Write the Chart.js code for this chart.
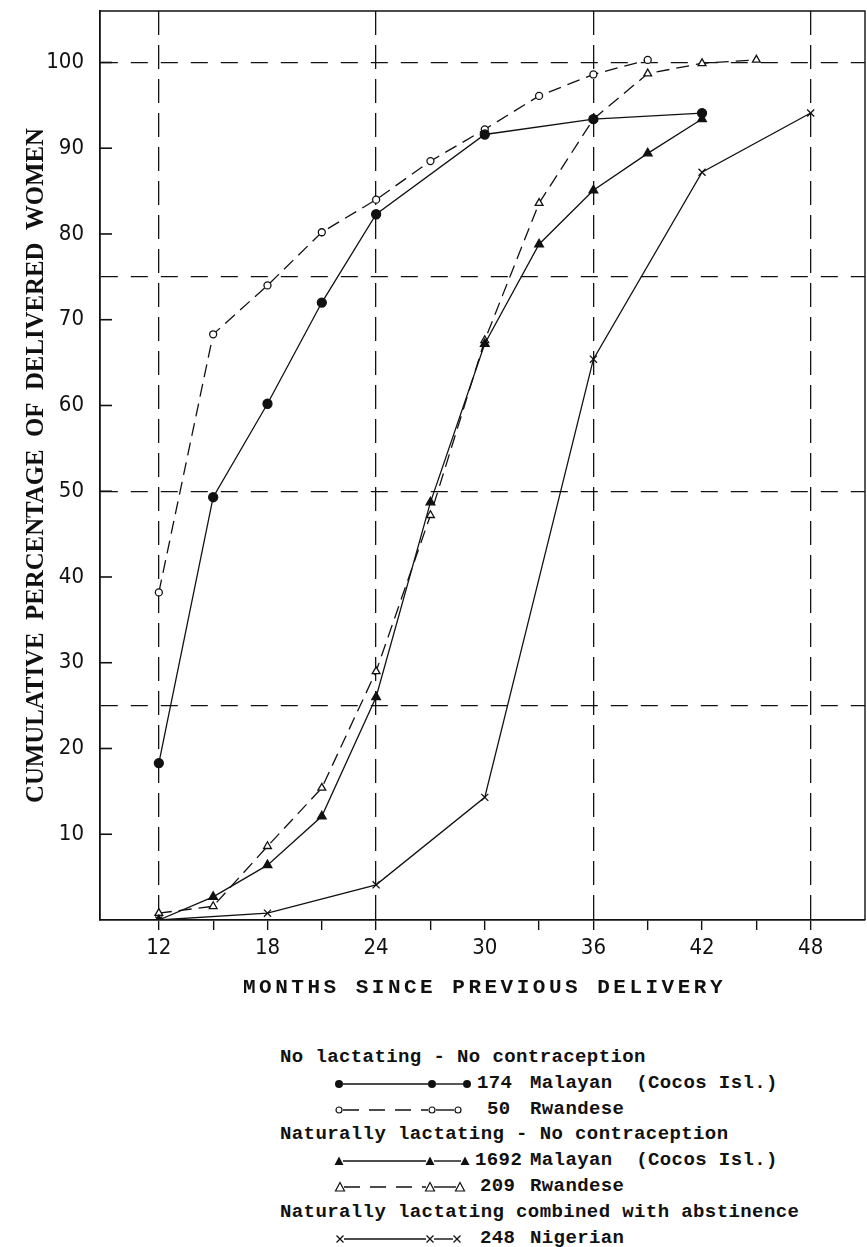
<!DOCTYPE html>
<html>
<head>
<meta charset="utf-8">
<script src="https://cdn.jsdelivr.net/npm/chart.js@4.4.0/dist/chart.umd.min.js"></script>
<style>
  body { margin: 0; background: #fff; }
  #wrap { position: relative; width: 867px; height: 1247px; overflow: hidden; }
  #chartBox { position: absolute; left: 0; top: 0; width: 867px; height: 1010px; }
  #legend { position: absolute; left: 0; top: 1045px; width: 867px;
            font: bold 19px "Liberation Mono", "DejaVu Sans Mono", monospace;
            color: #111; letter-spacing: 0.4px; }
  .row { position: relative; height: 25.8px; line-height: 25.8px; white-space: pre; }
  .hdr { padding-left: 280px; }
  .row svg { position: absolute; left: 331px; top: 5px; }
  .num { position: absolute; left: 475px; }
  .name { position: absolute; left: 530px; }
</style>
</head>
<body>
<div id="wrap">
  <div id="chartBox"><canvas id="chart"></canvas></div>
  <div id="legend"></div>
</div>
<script>
// tick positions
const xTickValues = [12, 15, 18, 21, 24, 27, 30, 33, 36, 39, 42, 45, 48];
const yTickValues = [10, 20, 25, 30, 40, 50, 60, 70, 75, 80, 90, 100];

// No lactating - No contraception
const monthsMalayanNoLact = [12, 15, 18, 21, 24, 30, 36, 42];
const malayanNoLact = [18.3, 49.3, 60.2, 72.0, 82.3, 91.6, 93.4, 94.1];
const monthsRwandaNoLact = [12, 15, 18, 21, 24, 27, 30, 33, 36, 39];
const rwandaNoLact = [38.2, 68.3, 74.0, 80.2, 84.0, 88.5, 92.2, 96.1, 98.6, 100.3];

// Naturally lactating - No contraception
const monthsMalayanLact = [12, 15, 18, 21, 24, 27, 30, 33, 36, 39, 42];
const malayanLact = [0, 2.7, 6.4, 12.1, 26.0, 48.7, 67.2, 78.8, 85.1, 89.4, 93.4];
const monthsRwandaLact = [12, 15, 18, 21, 24, 27, 30, 33, 36, 39, 42, 45];
const rwandaLact = [0.8, 1.6, 8.6, 15.4, 29.0, 47.2, 67.6, 83.6, 93.4, 98.7, 99.9, 100.3];

// Naturally lactating combined with abstinence
const monthsNigeria = [12, 18, 24, 30, 36, 42, 48];
const nigeria = [0, 0.8, 4.1, 14.3, 65.4, 87.2, 94.1];

const xTitle = 'MONTHS SINCE PREVIOUS DELIVERY';
const yTitle = 'CUMULATIVE  PERCENTAGE  OF  DELIVERED  WOMEN';

const INK = '#111';
const tickFont = { family: '"Liberation Sans Narrow", "DejaVu Sans Condensed", "Liberation Sans", sans-serif', size: 22 };

function pts(xs, ys) {
  return xs.map((m, i) => ({ x: m, y: ys[i] }));
}

function series(label, xs, ys, style, radius, fill, dash) {
  return {
    label: label,
    data: pts(xs, ys),
    borderColor: INK,
    borderWidth: 1.3,
    borderDash: dash,
    pointStyle: style,
    pointRadius: radius,
    pointBorderWidth: 1.3,
    pointBackgroundColor: fill,
    pointBorderColor: INK,
    tension: 0,
    fill: false
  };
}

// frame, inner y ticks and axis titles
const framePlugin = {
  id: 'frame',
  afterDraw(chart) {
    const { ctx, chartArea: a, scales: { x, y } } = chart;
    ctx.save();
    ctx.strokeStyle = INK;
    ctx.lineWidth = 1.4;
    ctx.beginPath();
    ctx.moveTo(a.left, a.top);
    ctx.lineTo(a.right, a.top);
    ctx.lineTo(a.right, a.bottom);
    ctx.stroke();

    ctx.lineWidth = 1.6;
    y.ticks.forEach(t => {
      if (t.value % 10 !== 0) return;
      const py = y.getPixelForValue(t.value);
      ctx.beginPath();
      ctx.moveTo(a.left, py);
      ctx.lineTo(a.left + 12, py);
      ctx.stroke();
    });

    ctx.fillStyle = INK;
    ctx.textAlign = 'center';
    ctx.textBaseline = 'middle';
    ctx.font = 'bold 21px "Liberation Mono", "DejaVu Sans Mono", monospace';
    ctx.letterSpacing = '3.5px';
    ctx.fillText(xTitle, (a.left + a.right) / 2 + 2, x.bottom - 22);

    ctx.letterSpacing = '0px';
    ctx.font = 'bold 26px "Liberation Serif", "DejaVu Serif", serif';
    const w = ctx.measureText(yTitle).width;
    ctx.translate(36, (a.top + a.bottom) / 2);
    ctx.rotate(-Math.PI / 2);
    ctx.scale(675 / w, 1);
    ctx.fillText(yTitle, 0, 0);
    ctx.restore();
  }
};

new Chart(document.getElementById('chart'), {
  type: 'line',
  data: {
    datasets: [
      series('174 Malayan (Cocos Isl.)', monthsMalayanNoLact, malayanNoLact, 'circle', 4.5, INK, []),
      series('50 Rwandese', monthsRwandaNoLact, rwandaNoLact, 'circle', 3.5, '#fff', [13, 7]),
      series('1692 Malayan (Cocos Isl.)', monthsMalayanLact, malayanLact, 'triangle', 5, INK, []),
      series('209 Rwandese', monthsRwandaLact, rwandaLact, 'triangle', 4.5, '#fff', [13, 7]),
      series('248 Nigerian', monthsNigeria, nigeria, 'crossRot', 5, INK, [])
    ]
  },
  options: {
    responsive: true,
    maintainAspectRatio: false,
    animation: false,
    layout: { autoPadding: false, padding: { top: 11, right: 2, left: 0, bottom: 0 } },
    plugins: {
      legend: { display: false },
      tooltip: { enabled: false },
      title: { display: false }
    },
    scales: {
      x: {
        type: 'linear',
        min: 8.75,
        max: 51,
        afterBuildTicks: scale => { scale.ticks = xTickValues.map(v => ({ value: v })); },
        afterFit: scale => {
          scale.height = 90;
          scale.paddingLeft = 0;
          scale.paddingRight = 0;
        },
        ticks: {
          color: INK,
          font: tickFont,
          padding: 5,
          maxRotation: 0,
          autoSkip: false,
          callback: v => (v % 6 === 0 ? String(v) : '')
        },
        grid: {
          color: c => (c.tick && c.tick.value % 12 === 0 ? INK : 'rgba(0,0,0,0)'),
          lineWidth: 1.3,
          drawTicks: true,
          tickLength: 10,
          tickColor: INK,
          tickWidth: 1.4
        },
        border: { display: true, color: INK, width: 1.8, dash: [24, 10] }
      },
      y: {
        type: 'linear',
        min: 0,
        max: 106,
        afterBuildTicks: scale => { scale.ticks = yTickValues.map(v => ({ value: v })); },
        afterFit: scale => {
          scale.width = 100;
          scale.paddingTop = 0;
          scale.paddingBottom = 0;
        },
        ticks: {
          color: INK,
          font: tickFont,
          padding: 16,
          autoSkip: false,
          callback: v => (v % 10 === 0 ? String(v) : '')
        },
        grid: {
          color: c => (c.tick && c.tick.value % 25 === 0 ? INK : 'rgba(0,0,0,0)'),
          lineWidth: 1.3,
          drawTicks: false
        },
        border: { display: true, color: INK, width: 1.8, dash: [17, 13] }
      }
    }
  },
  plugins: [framePlugin]
});

// legend below the chart
function marker(kind, cx) {
  const cy = 8;
  if (kind === 'dot') return `<circle cx="${cx}" cy="${cy}" r="4" fill="${INK}"/>`;
  if (kind === 'ring') return `<circle cx="${cx}" cy="${cy}" r="3" fill="#fff" stroke="${INK}" stroke-width="1.2"/>`;
  if (kind === 'tri' || kind === 'otri') {
    const p = `${cx - 4.5},${cy + 4} ${cx + 4.5},${cy + 4} ${cx},${cy - 4.5}`;
    return kind === 'tri'
      ? `<polygon points="${p}" fill="${INK}"/>`
      : `<polygon points="${p}" fill="#fff" stroke="${INK}" stroke-width="1.2"/>`;
  }
  return `<path d="M${cx - 3.5},${cy - 3.5}L${cx + 3.5},${cy + 3.5}M${cx - 3.5},${cy + 3.5}L${cx + 3.5},${cy - 3.5}" stroke="${INK}" stroke-width="1.3"/>`;
}

function sample(kind, xs, dashed) {
  const [a, b, c] = xs;
  const dash = dashed ? ' stroke-dasharray="16 10"' : '';
  return `<svg width="145" height="16">` +
    `<line x1="${a + 4}" y1="8" x2="${b - 4}" y2="8" stroke="${INK}" stroke-width="1.4"${dash}/>` +
    `<line x1="${b + 4}" y1="8" x2="${c - 4}" y2="8" stroke="${INK}" stroke-width="1.4"/>` +
    marker(kind, a) + marker(kind, b) + marker(kind, c) + `</svg>`;
}

const legendRows = [
  { head: 'No lactating - No contraception' },
  { kind: 'dot', at: [8, 101, 136], dashed: false, num: '174', numX: 477, name: 'Malayan  (Cocos Isl.)' },
  { kind: 'ring', at: [8, 101, 127], dashed: true, num: '50', numX: 487, name: 'Rwandese' },
  { head: 'Naturally lactating - No contraception' },
  { kind: 'tri', at: [8, 99, 134], dashed: false, num: '1692', numX: 475, name: 'Malayan  (Cocos Isl.)' },
  { kind: 'otri', at: [9, 99, 129], dashed: true, num: '209', numX: 480, name: 'Rwandese' },
  { head: 'Naturally lactating combined with abstinence' },
  { kind: 'x', at: [9, 99, 126], dashed: false, num: '248', numX: 480, name: 'Nigerian' }
];

document.getElementById('legend').innerHTML = legendRows.map(r => {
  if (r.head) return `<div class="row hdr">${r.head}</div>`;
  return `<div class="row">${sample(r.kind, r.at, r.dashed)}` +
    `<span class="num" style="left:${r.numX}px">${r.num}</span>` +
    `<span class="name">${r.name}</span></div>`;
}).join('');
</script>
</body>
</html>
